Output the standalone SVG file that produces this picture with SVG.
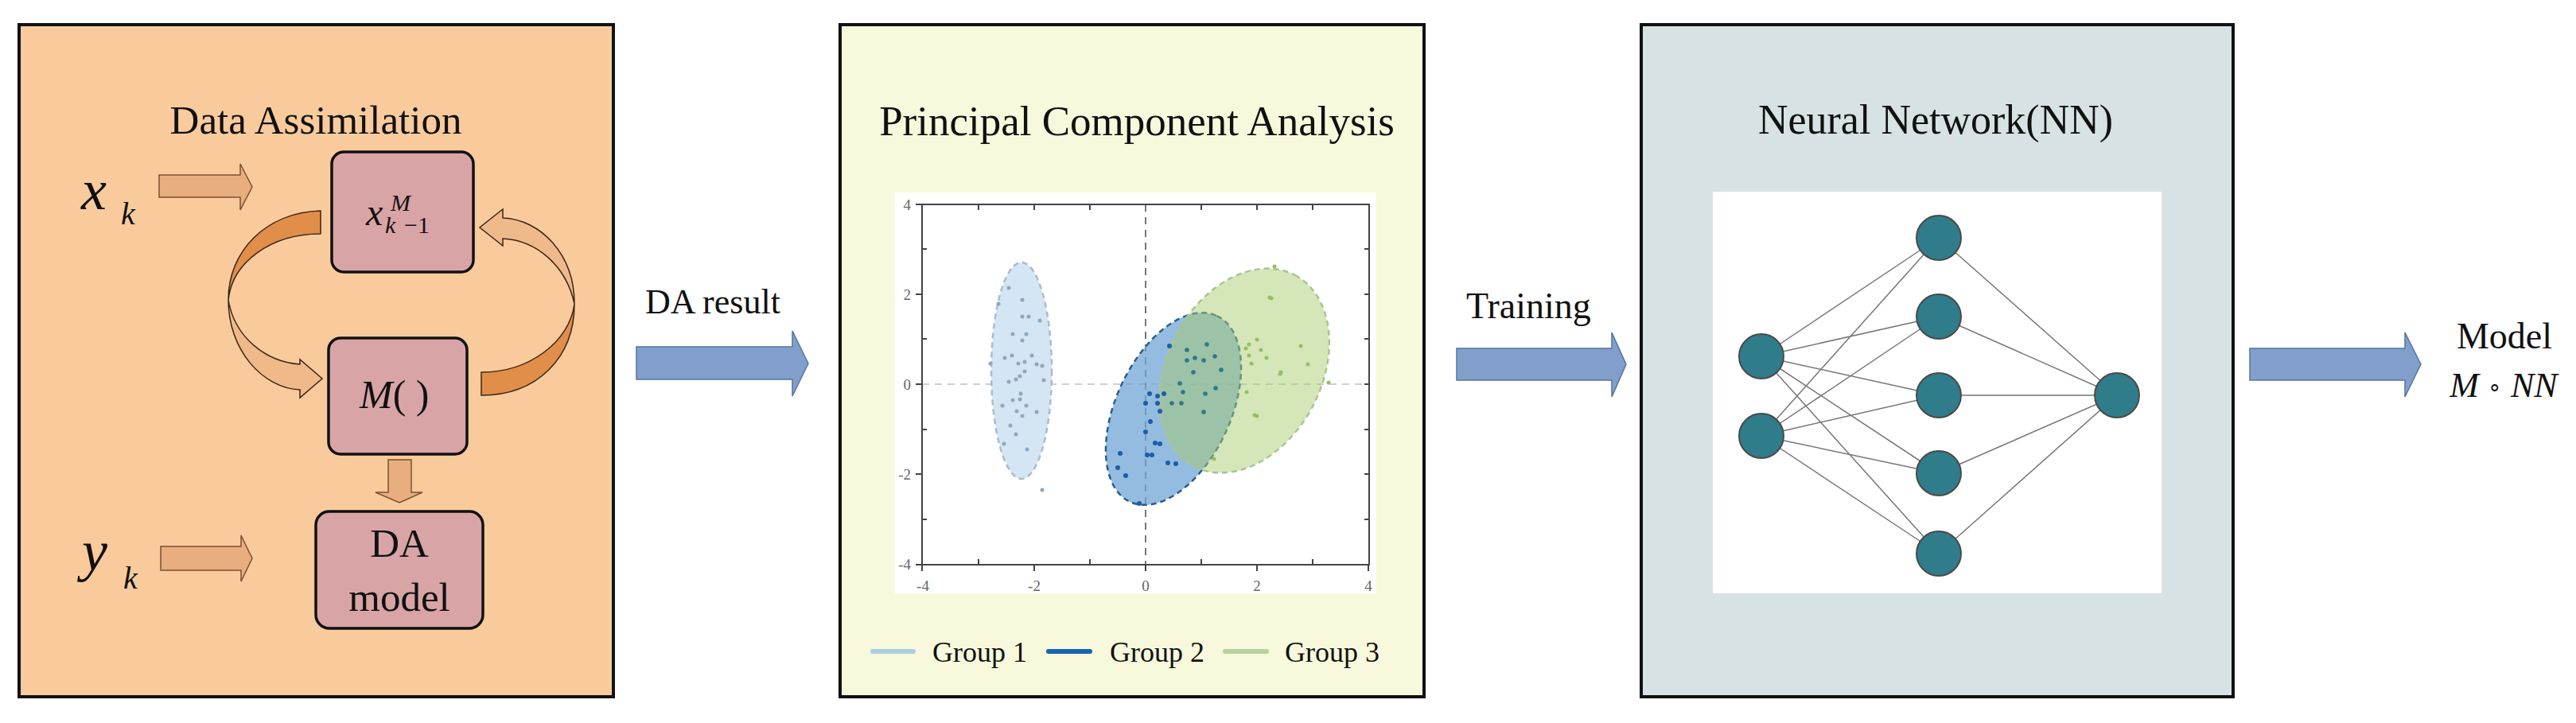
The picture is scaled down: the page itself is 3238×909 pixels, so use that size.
<svg xmlns="http://www.w3.org/2000/svg" width="3238" height="909" viewBox="0 0 3238 909">
<defs>
<style>
.panel{stroke:#111;stroke-width:4}
.t{font-family:"Liberation Serif",serif;fill:#111}
.it{font-style:italic}
.box{fill:#d9a4a6;stroke:#111;stroke-width:3.5}
.sarrow{fill:#e9ae7f;stroke:#7a5030;stroke-width:1.5}
.barrow{fill:#819fca;stroke:#56769f;stroke-width:1.5}
.dark{fill:#e18e4b;stroke:#3b2616;stroke-width:1.5}
.light{fill:#f0b98a;stroke:#3b2616;stroke-width:1.5}
.ax{fill:none;stroke:#444;stroke-width:2}
.tick{stroke:#444;stroke-width:2}
.lab{font-family:"Liberation Serif",serif;font-size:19px;fill:#666}
.g1 circle{fill:#8fa8bd}
.g2 circle{fill:#1d5ea6}
.g2b circle{fill:#2e7a86}
.g3 circle{fill:#94bf63}
.edge{stroke:#777;stroke-width:1.5}
.neuron{fill:#2f7c8b;stroke:#4a4a4a;stroke-width:2}
</style>
</defs>
<rect width="3238" height="909" fill="#ffffff"/>

<!-- Panel 1: Data Assimilation -->
<g id="panel-da">
<rect class="panel" x="24" y="31" width="747" height="845" fill="#f9cb9c"/>
<text class="t" x="397" y="168" font-size="51" text-anchor="middle">Data Assimilation</text>
</g>
<g id="node-xk">
<text class="t it" x="102" y="263" font-size="72">x</text>
<text class="t it" x="152" y="282" font-size="40">k</text>
</g>
<g id="node-yk">
<text class="t it" x="103" y="717" font-size="72">y</text>
<text class="t it" x="155" y="740" font-size="40">k</text>
</g>
<g id="node-xkm1">
<rect class="box" x="417" y="191" width="178" height="151" rx="15"/>
<text class="t it" x="460" y="283" font-size="48">x</text>
<text class="t it" x="491" y="265" font-size="30">M</text>
<text class="t it" x="484" y="293" font-size="30">k</text>
<text class="t" x="508" y="293" font-size="30">−1</text>
</g>
<g id="node-M">
<rect class="box" x="413" y="425" width="174" height="146" rx="15"/>
<text class="t" x="452" y="513" font-size="50"><tspan class="it">M</tspan>( )</text>
</g>
<g id="node-damodel">
<rect class="box" x="397" y="643" width="210" height="147" rx="17"/>
<text class="t" x="502" y="700" font-size="51" text-anchor="middle">DA</text>
<text class="t" x="502" y="768" font-size="51" text-anchor="middle">model</text>
</g>

<!-- Panel 2: PCA -->
<g id="panel-pca">
<rect class="panel" x="1056" y="31" width="734" height="845" fill="#f7f8dc"/>
<text class="t" x="1429" y="170" font-size="53" text-anchor="middle">Principal Component Analysis</text>
<rect x="1125" y="242" width="605" height="504" fill="#ffffff"/>
<!-- crosshair -->
<line x1="1159" y1="483" x2="1721" y2="483" stroke="#cfcfcf" stroke-width="2" stroke-dasharray="9 7"/>
<line x1="1440" y1="257" x2="1440" y2="710" stroke="#555" stroke-width="1.6" stroke-dasharray="9 7"/>
<!-- ellipses -->
<ellipse cx="1284" cy="466" rx="38" ry="136" fill="#d4e6f4" stroke="#a9bccb" stroke-width="2.5" stroke-dasharray="7 5"/>
<ellipse cx="1475" cy="514" rx="129" ry="72" transform="rotate(-65 1475 514)" fill="#6fa6d6" fill-opacity="0.75" stroke="#2d5e8a" stroke-width="2.5" stroke-dasharray="7 5"/>
<ellipse cx="1564" cy="466" rx="136" ry="97" transform="rotate(-62 1564 466)" fill="#a7cb6b" fill-opacity="0.48" stroke="#a9c592" stroke-width="2.5" stroke-dasharray="7 5"/>
<!-- points -->
<g class="g1">
<circle cx="1268" cy="362" r="2.5"/><circle cx="1285" cy="377" r="2.5"/><circle cx="1255" cy="382" r="2.5"/><circle cx="1285" cy="398" r="2.5"/><circle cx="1293" cy="398" r="2.5"/><circle cx="1307" cy="403" r="2.5"/><circle cx="1273" cy="420" r="2.5"/><circle cx="1290" cy="420" r="2.5"/><circle cx="1285" cy="428" r="2.5"/><circle cx="1263" cy="450" r="2.5"/><circle cx="1272" cy="447" r="2.5"/><circle cx="1297" cy="447" r="2.5"/><circle cx="1280" cy="457" r="2.5"/><circle cx="1288" cy="455" r="2.5"/><circle cx="1303" cy="458" r="2.5"/><circle cx="1310" cy="460" r="2.5"/><circle cx="1245" cy="457" r="2.5"/><circle cx="1288" cy="467" r="2.5"/><circle cx="1282" cy="473" r="2.5"/><circle cx="1277" cy="477" r="2.5"/><circle cx="1312" cy="478" r="2.5"/><circle cx="1268" cy="480" r="2.5"/><circle cx="1283" cy="495" r="2.5"/><circle cx="1273" cy="503" r="2.5"/><circle cx="1282" cy="502" r="2.5"/><circle cx="1260" cy="510" r="2.5"/><circle cx="1290" cy="510" r="2.5"/><circle cx="1278" cy="517" r="2.5"/><circle cx="1285" cy="523" r="2.5"/><circle cx="1303" cy="518" r="2.5"/><circle cx="1270" cy="535" r="2.5"/><circle cx="1277" cy="546" r="2.5"/><circle cx="1310" cy="616" r="2.5"/><circle cx="1262" cy="558" r="2.5"/><circle cx="1291" cy="565" r="2.5"/>
</g>
<g class="g2">
<circle cx="1470" cy="435" r="3"/><circle cx="1445" cy="495" r="3"/><circle cx="1455" cy="498" r="3"/><circle cx="1455" cy="507" r="3"/><circle cx="1440" cy="507" r="3"/><circle cx="1458" cy="517" r="3"/><circle cx="1463" cy="495" r="3"/><circle cx="1440" cy="543" r="3"/><circle cx="1452" cy="557" r="3"/><circle cx="1458" cy="558" r="3"/><circle cx="1408" cy="570" r="3"/><circle cx="1442" cy="572" r="3"/><circle cx="1448" cy="572" r="3"/><circle cx="1405" cy="588" r="3"/><circle cx="1415" cy="598" r="3"/><circle cx="1468" cy="582" r="3"/><circle cx="1478" cy="583" r="3"/><circle cx="1432" cy="633" r="3"/><circle cx="1446" cy="530" r="3"/>
</g>
<g class="g2b">
<circle cx="1492" cy="440" r="2.8"/><circle cx="1517" cy="433" r="2.8"/><circle cx="1502" cy="450" r="2.8"/><circle cx="1513" cy="453" r="2.8"/><circle cx="1527" cy="448" r="2.8"/><circle cx="1492" cy="453" r="2.8"/><circle cx="1500" cy="468" r="2.8"/><circle cx="1535" cy="465" r="2.8"/><circle cx="1483" cy="482" r="2.8"/><circle cx="1487" cy="493" r="2.8"/><circle cx="1515" cy="495" r="2.8"/><circle cx="1528" cy="488" r="2.8"/><circle cx="1473" cy="507" r="2.8"/><circle cx="1485" cy="507" r="2.8"/><circle cx="1513" cy="518" r="2.8"/>
</g>
<g class="g3">
<circle cx="1602" cy="335" r="2.5"/><circle cx="1598" cy="375" r="2.5"/><circle cx="1570" cy="433" r="2.5"/><circle cx="1580" cy="427" r="2.5"/><circle cx="1570" cy="447" r="2.5"/><circle cx="1573" cy="457" r="2.5"/><circle cx="1592" cy="450" r="2.5"/><circle cx="1610" cy="468" r="2.5"/><circle cx="1567" cy="493" r="2.5"/><circle cx="1580" cy="523" r="2.5"/><circle cx="1635" cy="435" r="2.5"/><circle cx="1609" cy="470" r="2.5"/><circle cx="1577" cy="522" r="2.5"/><circle cx="1644" cy="458" r="2.5"/><circle cx="1670" cy="481" r="2.5"/><circle cx="1596" cy="374" r="2.5"/><circle cx="1526" cy="577" r="2.5"/><circle cx="1566" cy="438" r="2.5"/><circle cx="1585" cy="440" r="2.5"/>
</g>
<!-- axes -->
<rect class="ax" x="1159" y="257" width="562" height="453"/>
<path class="tick" d="M1159,257 h-8 M1159,370 h-8 M1159,483 h-8 M1159,596 h-8 M1159,710 h-8 M1159,710 v8 M1300,710 v8 M1440,710 v8 M1580,710 v8 M1720,710 v8
M1159,313 h6 M1159,426 h6 M1159,540 h6 M1159,653 h6 M1721,313 h-6 M1721,370 h-6 M1721,426 h-6 M1721,483 h-6 M1721,540 h-6 M1721,596 h-6 M1721,653 h-6
M1230,257 v7 M1300,257 v7 M1370,257 v7 M1510,257 v7 M1580,257 v7 M1650,257 v7 M1230,710 v-7 M1370,710 v-7 M1510,710 v-7 M1650,710 v-7"/>
<text class="lab" x="1145" y="264" text-anchor="end">4</text>
<text class="lab" x="1145" y="377" text-anchor="end">2</text>
<text class="lab" x="1145" y="490" text-anchor="end">0</text>
<text class="lab" x="1145" y="603" text-anchor="end">-2</text>
<text class="lab" x="1145" y="716" text-anchor="end">-4</text>
<text class="lab" x="1160" y="743" text-anchor="middle">-4</text>
<text class="lab" x="1300" y="743" text-anchor="middle">-2</text>
<text class="lab" x="1440" y="743" text-anchor="middle">0</text>
<text class="lab" x="1580" y="743" text-anchor="middle">2</text>
<text class="lab" x="1720" y="743" text-anchor="middle">4</text>
<!-- legend -->
<line x1="1097" y1="819" x2="1148" y2="819" stroke="#a9d0e0" stroke-width="6" stroke-linecap="round"/>
<text class="t" x="1172" y="832" font-size="36">Group 1</text>
<line x1="1318" y1="819" x2="1370" y2="819" stroke="#1565b0" stroke-width="6" stroke-linecap="round"/>
<text class="t" x="1395" y="832" font-size="36">Group 2</text>
<line x1="1540" y1="819" x2="1592" y2="819" stroke="#b9d09f" stroke-width="6" stroke-linecap="round"/>
<text class="t" x="1615" y="832" font-size="36">Group 3</text>
</g>

<!-- Panel 3: Neural Network -->
<g id="panel-nn">
<rect class="panel" x="2063" y="31" width="744" height="845" fill="#d7e2e4"/>
<text class="t" x="2433" y="168" font-size="52" text-anchor="middle">Neural Network(NN)</text>
<rect x="2153" y="241" width="564" height="505" fill="#ffffff"/>
<g id="nn-edges">
<path class="edge" d="M2214,448 L2437,299 M2214,448 L2437,398 M2214,448 L2437,497 M2214,448 L2437,595 M2214,448 L2437,696
M2214,548 L2437,299 M2214,548 L2437,398 M2214,548 L2437,497 M2214,548 L2437,595 M2214,548 L2437,696
M2437,299 L2661,497 M2437,398 L2661,497 M2437,497 L2661,497 M2437,595 L2661,497 M2437,696 L2661,497"/>
</g>
<g id="nn-in-1"><circle class="neuron" cx="2214" cy="448" r="28"/></g>
<g id="nn-in-2"><circle class="neuron" cx="2214" cy="548" r="28"/></g>
<g id="nn-h-1"><circle class="neuron" cx="2437" cy="299" r="28"/></g>
<g id="nn-h-2"><circle class="neuron" cx="2437" cy="398" r="28"/></g>
<g id="nn-h-3"><circle class="neuron" cx="2437" cy="497" r="28"/></g>
<g id="nn-h-4"><circle class="neuron" cx="2437" cy="595" r="28"/></g>
<g id="nn-h-5"><circle class="neuron" cx="2437" cy="696" r="28"/></g>
<g id="nn-out"><circle class="neuron" cx="2661" cy="497" r="28"/></g>
</g>

<g id="node-model">
<text class="t" x="3148" y="438" font-size="46" text-anchor="middle">Model</text>
<text class="t" x="3147" y="499" font-size="44" text-anchor="middle"><tspan class="it">M</tspan> <tspan font-size="28" dy="-4">∘</tspan> <tspan class="it" dy="4">NN</tspan></text>
</g>

<!-- Connectors -->
<g id="connectors">
<path class="sarrow" d="M200,220 H302 V206 L317,235 L302,264 V248 H200 Z"/>
<path class="sarrow" d="M202,687 H303 V673 L317,702 L303,731 V717 H202 Z"/>
<path class="sarrow" d="M488,578 H517 V619 H531 L502,632 L472,619 H488 Z"/>
<!-- curved: x^M -> M() (left) -->
<path class="dark" d="M403,265 C335,267 287,315 287,377 C292,330 340,294 403,294 Z"/>
<path class="light" d="M287,377 C287,440 330,488 377,490 L377,500 L405,476 L377,452 L377,458 C335,455 295,425 287,377 Z"/>
<!-- curved: M() -> x^M (right) -->
<path class="dark" d="M605,468 C665,468 716,430 722,382 C722,450 675,497 605,497 Z"/>
<path class="light" d="M722,382 C722,320 680,276 632,274 L632,263 L603,286 L632,309 L632,300 C675,302 712,335 722,382 Z"/>
<!-- big arrows -->
<path class="barrow" d="M800,436 H996 V416 L1016,457 L996,498 V477 H800 Z"/>
<text class="t" x="811" y="394" font-size="44">DA result</text>
<path class="barrow" d="M1831,438 H2026 V418 L2044,458 L2026,499 V478 H1831 Z"/>
<text class="t" x="1843" y="400" font-size="46">Training</text>
<path class="barrow" d="M2828,438 H3023 V418 L3043,458 L3023,499 V478 H2828 Z"/>
</g>
</svg>
